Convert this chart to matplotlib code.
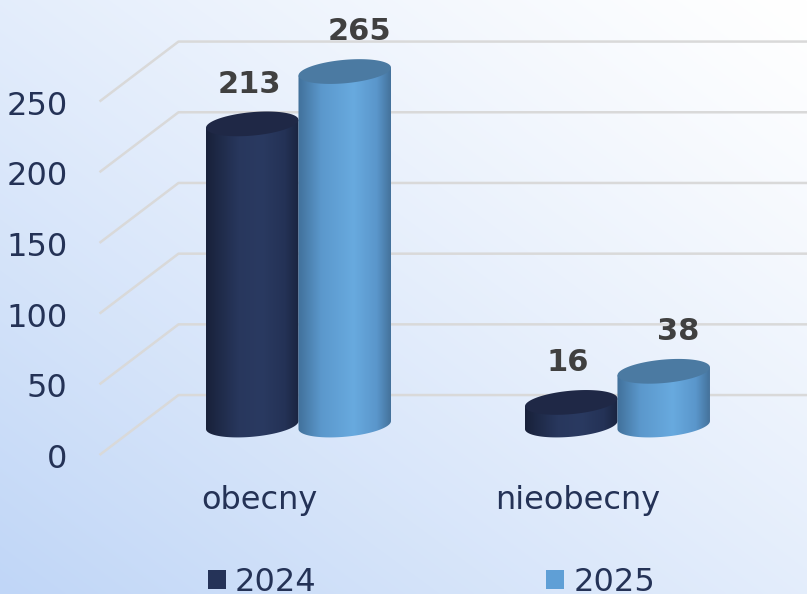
import numpy as np
import matplotlib
matplotlib.use("Agg")
import matplotlib.pyplot as plt
from matplotlib.colors import LinearSegmentedColormap, to_rgb
from matplotlib.patches import Polygon, Patch

# data
categories = ["obecny", "nieobecny"]
series = ["2024", "2025"]
values_2024 = [213, 16]
values_2025 = [265, 38]
y_ticks = [0, 50, 100, 150, 200, 250]
y_max = 250

# pseudo-3d layout (category units / value units)
DX, DY = 0.2476, 42.4      # depth offset of the back wall
W = 0.29                   # cylinder width
A, B = W / 2, 8.3          # ellipse half axes
TILT = 2.8                 # slight tilt of the ellipses

text_col = "#243256"
label_col = "#404040"
grid_col = "#d9d9d9"

body_maps = [
    LinearSegmentedColormap.from_list("dark", [
        (0, "#18213a"), (0.35, "#28375d"), (0.6, "#2a3a61"),
        (0.85, "#243256"), (1, "#1a2440")]),
    LinearSegmentedColormap.from_list("light", [
        (0, "#41709a"), (0.25, "#5b98cc"), (0.6, "#68aadf"),
        (0.85, "#5a96cb"), (1, "#44729b")]),
]
top_cols = ["#1f2846", "#4b7aa2"]
legend_cols = ["#253358", "#5f9fd6"]
label_dx = [-0.01, 0.045]


def draw_cylinder(ax, cx, base, height, cmap, top_color, z):
    top = base + height
    tb = np.linspace(np.pi, 2 * np.pi, 60)
    xs = list(cx + A * np.cos(tb)) + [cx + A, cx - A]
    ys = list(base + B * np.sin(tb) + TILT * np.cos(tb)) + [top + TILT, top - TILT]
    body = Polygon(np.column_stack([xs, ys]), closed=True, fc="none", ec="none")
    ax.add_patch(body)
    grad = np.linspace(0, 1, 256).reshape(1, -1)
    im = ax.imshow(grad, cmap=cmap, aspect="auto", origin="lower", zorder=z,
                   extent=[cx - A, cx + A, base - B - TILT - 1, top + TILT + 1])
    im.set_clip_path(body)
    t = np.linspace(0, 2 * np.pi, 120)
    ax.fill(cx + A * np.cos(t), top + B * np.sin(t) + TILT * np.cos(t),
            color=top_color, lw=0, zorder=z + 0.1)


fig = plt.figure(figsize=(8.07, 5.94), dpi=100)

# background gradient
bg = fig.add_axes([0, 0, 1, 1], zorder=-1)
yy, xx = np.mgrid[0:1:594j, 0:1:807j]
t = np.clip(((1 - xx) + yy) / 2, 0, 1) ** 1.2
c0, c1 = np.array(to_rgb("#ffffff")), np.array(to_rgb("#c0d6f7"))
bg.imshow(c0 + (c1 - c0) * t[..., None], aspect="auto")
bg.axis("off")

ax = fig.add_axes([0, 0, 1, 1])
ax.patch.set_alpha(0)
xlim = (-0.812, 1.718)
ylim = (-98.3, 321.8)

# gridlines: left wall diagonal, then back wall
for v in y_ticks:
    ax.plot([-0.5, -0.5 + DX, xlim[1]], [v, v + DY, v + DY],
            color=grid_col, lw=1.8, zorder=1, solid_capstyle="butt")
    ax.text(-0.6, v - 9.2, str(v), ha="right", va="baseline",
            fontsize=23, color=text_col)

for s, vals in enumerate([values_2024, values_2025]):
    for i, v in enumerate(vals):
        cx = i + (s - 0.5) * W + DX / 2
        base = DY / 2
        h = min(v, y_max)
        draw_cylinder(ax, cx, base, h, body_maps[s], top_cols[s], 2 + s)
        ax.text(cx + label_dx[s], base + h + 22, str(v), ha="center",
                va="baseline", fontsize=22, fontweight="bold",
                color=label_col, zorder=6)

for i, c in enumerate(categories):
    ax.text(i, -38.2, c, ha="center", va="baseline", fontsize=23,
            color=text_col)

ax.set_xlim(*xlim)
ax.set_ylim(*ylim)
ax.axis("off")

handles = [Patch(facecolor=c, edgecolor="none") for c in legend_cols]
fig.legend(handles, series, loc="lower left", bbox_to_anchor=(0.2577, -0.006),
           ncol=2, frameon=False, fontsize=23, handlelength=0.56,
           handleheight=0.56, handletextpad=0.28, columnspacing=7.2,
           borderpad=0, borderaxespad=0, labelcolor=text_col)

fig.savefig("out.png", dpi=100)
